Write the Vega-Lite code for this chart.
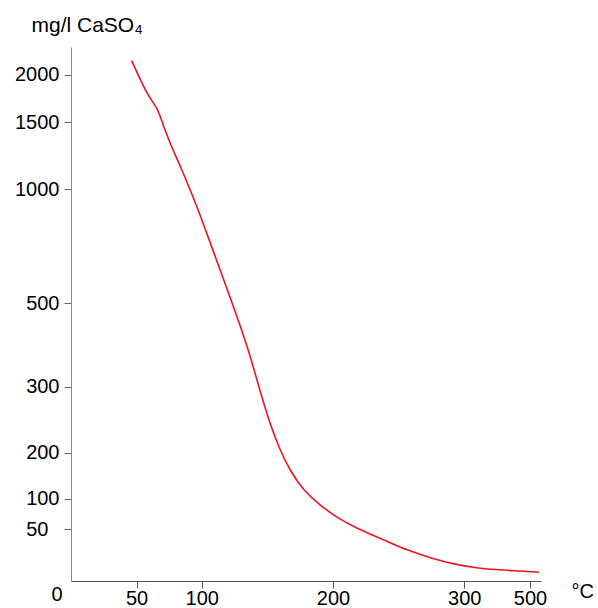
{
  "$schema": "https://vega.github.io/schema/vega-lite/v6.json",
  "autosize": "none",
  "padding": {"left": 71, "top": 47, "right": 57, "bottom": 27},
  "width": 470,
  "height": 534,
  "config": {
    "view": {"stroke": null},
    "font": "Liberation Sans",
    "axis": {"labelFont": "Liberation Sans", "labelFontSize": 20, "labelColor": "#000", "grid": false, "titleFont": "Liberation Sans", "titleFontWeight": "normal", "titleFontSize": 20, "titleColor": "#000"}
  },
  "data": {
    "values": [
      {"t": 46.3, "c": 2147},
      {"t": 57.7, "c": 1805},
      {"t": 64.1, "c": 1682},
      {"t": 66.6, "c": 1629},
      {"t": 71.7, "c": 1442},
      {"t": 78.0, "c": 1292},
      {"t": 84.4, "c": 1155},
      {"t": 93.3, "c": 966},
      {"t": 98.4, "c": 893},
      {"t": 108.5, "c": 732},
      {"t": 118.8, "c": 571},
      {"t": 132.7, "c": 416},
      {"t": 137.8, "c": 364},
      {"t": 144.2, "c": 295},
      {"t": 151.8, "c": 245},
      {"t": 159.4, "c": 205},
      {"t": 167.1, "c": 162},
      {"t": 177.2, "c": 119},
      {"t": 189.9, "c": 89.6},
      {"t": 202.7, "c": 69.3},
      {"t": 217.9, "c": 51},
      {"t": 242.0, "c": 37.8},
      {"t": 256.1, "c": 29.8},
      {"t": 276.4, "c": 21.2},
      {"t": 291.6, "c": 16.3},
      {"t": 337.7, "c": 12.5},
      {"t": 408.7, "c": 10.6},
      {"t": 469.6, "c": 9.6},
      {"t": 528.3, "c": 8.4}
    ]
  },
  "layer": [
    {
      "mark": {"type": "line", "color": "#f0141e", "strokeWidth": 1.6, "interpolate": "basis"},
      "encoding": {
        "x": {
          "field": "t", "type": "quantitative",
          "scale": {"domain": [0, 50, 100, 200, 300, 500, 533], "range": [0, 65.5, 130.7, 262, 393.3, 459, 470], "nice": false, "zero": false},
          "axis": {
            "values": [50, 100, 200, 300, 500],
            "format": "d",
            "title": "°C",
            "titleX": 500, "titleY": 10, "titleAlign": "left", "titleBaseline": "middle", "titleAngle": 0,
            "domainColor": "#555", "tickColor": "#555", "tickSize": 7, "labelPadding": 0, "labelFlush": false
          }
        },
        "y": {
          "field": "c", "type": "quantitative",
          "scale": {"domain": [0, 50, 100, 200, 300, 500, 1000, 1500, 2000, 2290], "range": [534, 482, 451.7, 405.7, 339.7, 256, 142, 75.3, 27.7, 0], "nice": false, "zero": false},
          "axis": {
            "values": [50, 100, 200, 300, 500, 1000, 1500, 2000],
            "format": "d",
            "title": "mg/l CaSO₄",
            "titleFontSize": 21,
            "titleX": -40, "titleY": -16, "titleAlign": "left", "titleBaseline": "alphabetic", "titleAngle": 0,
            "domainColor": "#888", "tickColor": "#666", "tickSize": 7,
            "labelPadding": {"condition": {"test": "datum.value == 50", "value": 16}, "value": 5},
            "labelBaseline": "middle"
          }
        }
      }
    },
    {
      "data": {"values": [{"t": 0, "c": 0, "label": "0"}]},
      "mark": {"type": "text", "font": "Liberation Sans", "fontSize": 20, "color": "#000", "dx": -14, "dy": 14, "align": "center", "baseline": "middle"},
      "encoding": {
        "x": {"field": "t", "type": "quantitative"},
        "y": {"field": "c", "type": "quantitative"},
        "text": {"field": "label"}
      }
    }
  ]
}
